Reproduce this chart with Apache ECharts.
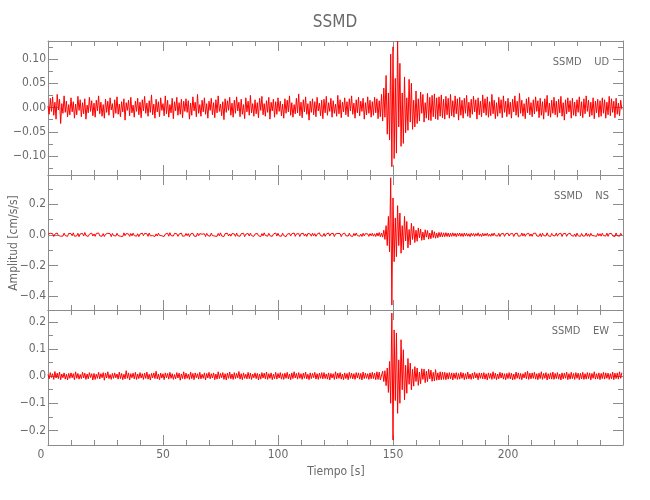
<!DOCTYPE html>
<html>
<head>
<meta charset="utf-8">
<script src="https://cdn.jsdelivr.net/npm/echarts@6/dist/echarts.min.js"></script>
<style>html,body{margin:0;padding:0;background:#fff}#c{width:650px;height:500px}</style>
</head>
<body>
<div id="c"></div>
<script>
// sampling interval of the traces (s)
const dt = 0.5;

// SSMD UD component (cm/s/s), one value every 0.5 s, 10 s per row
const udValues = [
.003,-.014,.019,-.008,.022,-.016,.011,-.024,.027,-.005,.017,-.033,.008,-.012,.024,-.010,.013,-.019,.006,-.015,
.020,-.009,.012,-.022,.007,-.015,.023,-.006,.016,-.019,.010,-.013,.018,-.024,.005,-.011,.021,-.008,.014,-.017,
.009,-.020,.015,-.007,.024,-.013,.011,-.018,.006,-.022,.017,-.010,.013,-.016,.020,-.005,.008,-.021,.016,-.012,
.022,-.014,.007,-.019,.012,-.009,.018,-.026,.010,-.006,.015,-.017,.021,-.011,.005,-.020,.013,-.008,.019,-.015,
.011,-.021,.016,-.007,.023,-.012,.009,-.018,.014,-.010,.026,-.015,.007,-.022,.017,-.009,.012,-.019,.020,-.006,
.008,-.017,.024,-.013,.015,-.020,.006,-.011,.019,-.023,.012,-.007,.021,-.016,.010,-.014,.017,-.021,.013,-.008,
.018,-.010,.014,-.024,.009,-.016,.022,-.007,.011,-.019,.027,-.012,.006,-.018,.015,-.009,.020,-.014,.008,-.022,
.013,-.006,.019,-.015,.010,-.021,.016,-.011,.024,-.008,.007,-.017,.012,-.025,.018,-.010,.014,-.006,.021,-.016,
.009,-.020,.015,-.012,.022,-.007,.011,-.019,.017,-.014,.006,-.023,.020,-.009,.013,-.016,.025,-.011,.008,-.018,
.016,-.013,.010,-.021,.019,-.006,.023,-.015,.008,-.018,.014,-.010,.021,-.024,.011,-.007,.017,-.020,.012,-.014,
.020,-.008,.013,-.017,.007,-.022,.018,-.012,.015,-.009,.024,-.016,.010,-.020,.006,-.013,.019,-.011,.028,-.017,
.011,-.021,.016,-.009,.022,-.014,.008,-.026,.013,-.010,.018,-.015,.012,-.019,.021,-.007,.009,-.017,.015,-.023,
.017,-.011,.023,-.016,.010,-.008,.019,-.020,.014,-.012,.007,-.018,.025,-.013,.016,-.021,.011,-.009,.020,-.015,
.012,-.019,.018,-.007,.024,-.014,.009,-.022,.016,-.011,.021,-.017,.013,-.008,.019,-.024,.010,-.015,.022,-.012,
.015,-.020,.012,-.016,.021,-.011,.018,-.023,.014,-.019,.027,-.028,.040,-.020,.066,-.055,.030,-.067,.110,-.122,
.125,-.105,.060,-.094,.137,-.040,.091,-.080,.030,-.074,.063,-.052,.020,-.047,.058,-.030,.050,-.045,.015,-.040,
.034,-.033,.018,-.028,.032,-.012,.027,-.030,.010,-.022,.029,-.026,.021,-.027,.025,-.019,.028,-.023,.020,-.025,
.022,-.018,.026,-.021,.017,-.024,.023,-.015,.019,-.022,.027,-.017,.014,-.020,.024,-.013,.018,-.026,.021,-.016,
.015,-.022,.019,-.012,.025,-.018,.011,-.021,.017,-.014,.023,-.009,.016,-.024,.020,-.015,.013,-.019,.026,-.011,
.018,-.016,.022,-.020,.012,-.017,.027,-.013,.015,-.023,.010,-.018,.021,-.012,.016,-.021,.024,-.010,.013,-.019,
.019,-.014,.011,-.022,.017,-.009,.024,-.016,.013,-.020,.029,-.012,.015,-.018,.008,-.023,.018,-.011,.021,-.015,
.010,-.019,.016,-.013,.022,-.008,.014,-.021,.019,-.016,.012,-.024,.018,-.010,.025,-.017,.009,-.020,.015,-.012,
.021,-.015,.013,-.020,.017,-.011,.023,-.018,.010,-.026,.016,-.013,.020,-.009,.014,-.022,.019,-.016,.011,-.018,
.016,-.010,.022,-.017,.012,-.021,.018,-.013,.024,-.008,.015,-.019,.011,-.016,.020,-.023,.013,-.011,.017,-.020,
.014,-.018,.020,-.012,.016,-.022,.011,-.015,.023,-.017,.018,-.010,.013,-.021,.019,-.014,.009,-.017,.015,-.004
];

// SSMD NS component (cm/s/s)
const nsValues = [
.004,-.007,.010,-.003,.008,-.011,.005,-.006,.012,-.004,.007,-.009,.003,-.008,.011,-.005,.006,-.010,.009,-.004,
.008,-.006,.013,-.009,.004,-.007,.010,-.012,.006,-.003,.009,-.008,.015,-.005,.007,-.010,.004,-.006,.011,-.008,
.006,-.010,.009,-.004,.012,-.007,.005,-.009,.008,-.011,.004,-.006,.010,-.003,.007,-.012,.009,-.005,.006,-.008,
.010,-.005,.007,-.009,.004,-.011,.013,-.006,.008,-.004,.006,-.010,.009,-.007,.011,-.005,.005,-.009,.007,-.012,
.005,-.008,.011,-.006,.009,-.004,.007,-.010,.012,-.007,.004,-.005,.008,-.011,.006,-.008,.010,-.004,.009,-.006,
.007,-.011,.005,-.007,.010,-.009,.014,-.005,.006,-.008,.009,-.004,.007,-.010,.005,-.006,.011,-.009,.004,-.007,
.009,-.006,.008,-.012,.006,-.004,.010,-.008,.005,-.010,.012,-.006,.008,-.005,.004,-.009,.007,-.011,.010,-.005,
.006,-.009,.011,-.005,.007,-.008,.004,-.010,.009,-.006,.013,-.007,.005,-.011,.008,-.004,.010,-.008,.006,-.009,
.008,-.004,.006,-.010,.012,-.007,.005,-.009,.007,-.005,.010,-.012,.004,-.006,.009,-.008,.011,-.005,.007,-.010,
.005,-.008,.009,-.006,.004,-.011,.008,-.007,.013,-.004,.006,-.009,.010,-.006,.007,-.010,.005,-.007,.012,-.008,
.010,-.007,.006,-.009,.011,-.005,.008,-.012,.004,-.006,.009,-.008,.007,-.004,.012,-.010,.006,-.007,.008,-.011,
.007,-.005,.010,-.008,.006,-.011,.009,-.004,.005,-.009,.011,-.006,.008,-.010,.004,-.007,.013,-.005,.006,-.009,
.009,-.010,.005,-.006,.012,-.008,.007,-.005,.010,-.011,.006,-.007,.009,-.004,.008,-.012,.005,-.008,.011,-.006,
.006,-.008,.011,-.007,.004,-.010,.009,-.006,.012,-.005,.007,-.009,.005,-.011,.010,-.007,.008,-.004,.006,-.010,
.008,-.006,.010,-.009,.007,-.011,.012,-.008,.015,-.012,.012,-.015,.030,-.030,.060,-.070,.120,-.110,.372,-.458,
.240,-.175,.110,-.142,.190,-.070,.142,-.120,.060,-.098,.120,-.040,.087,-.085,.035,-.066,.075,-.030,.055,-.050,
.030,-.042,.045,-.020,.038,-.036,.018,-.033,.033,-.015,.028,-.028,.012,-.025,.030,-.018,.020,-.022,.011,-.019,
.016,-.013,.015,-.014,.013,-.012,.014,-.011,.012,-.013,.011,-.010,.013,-.009,.010,-.012,.011,-.008,.012,-.010,
.009,-.011,.012,-.008,.010,-.009,.007,-.012,.011,-.006,.009,-.010,.008,-.007,.013,-.009,.006,-.011,.010,-.008,
.008,-.006,.011,-.009,.005,-.010,.009,-.007,.012,-.005,.007,-.008,.010,-.011,.006,-.004,.009,-.010,.007,-.006,
.010,-.008,.006,-.005,.009,-.011,.007,-.006,.011,-.009,.004,-.007,.012,-.008,.008,-.010,.005,-.006,.010,-.009,
.006,-.010,.009,-.004,.011,-.007,.005,-.009,.008,-.012,.010,-.005,.007,-.008,.013,-.006,.006,-.011,.009,-.005,
.008,-.007,.012,-.009,.006,-.005,.010,-.011,.007,-.006,.009,-.010,.005,-.008,.011,-.004,.008,-.009,.006,-.012,
.011,-.006,.007,-.010,.009,-.008,.005,-.007,.012,-.009,.006,-.011,.010,-.005,.008,-.006,.004,-.010,.009,-.007,
.007,-.009,.010,-.005,.006,-.008,.011,-.010,.008,-.004,.009,-.007,.005,-.011,.012,-.006,.007,-.009,.010,-.003
];

// SSMD EW component (cm/s/s)
const ewValues = [
.006,-.010,.013,-.005,.009,-.012,.017,-.007,.011,-.009,.015,-.013,.008,-.006,.012,-.011,.007,-.014,.010,-.008,
.012,-.006,.009,-.013,.016,-.008,.010,-.011,.006,-.009,.014,-.007,.011,-.012,.008,-.010,.013,-.005,.009,-.014,
.010,-.012,.007,-.008,.014,-.010,.009,-.006,.013,-.015,.011,-.007,.016,-.009,.006,-.012,.010,-.008,.012,-.006,
.008,-.011,.015,-.009,.010,-.013,.007,-.010,.020,-.008,.012,-.014,.009,-.006,.011,-.010,.014,-.012,.008,-.009,
.013,-.007,.009,-.012,.011,-.008,.015,-.011,.007,-.014,.010,-.006,.012,-.009,.018,-.010,.008,-.013,.011,-.007,
.009,-.013,.012,-.006,.010,-.011,.014,-.008,.009,-.012,.006,-.010,.013,-.007,.011,-.015,.008,-.009,.016,-.011,
.011,-.008,.007,-.012,.015,-.009,.010,-.013,.012,-.006,.009,-.011,.014,-.010,.007,-.008,.012,-.014,.010,-.007,
.014,-.010,.009,-.007,.012,-.013,.008,-.011,.016,-.009,.010,-.006,.013,-.012,.009,-.014,.011,-.008,.015,-.010,
.008,-.012,.013,-.009,.010,-.007,.017,-.011,.009,-.013,.012,-.008,.007,-.010,.014,-.009,.011,-.012,.008,-.006,
.012,-.009,.010,-.014,.008,-.011,.013,-.007,.011,-.010,.015,-.012,.009,-.008,.012,-.013,.007,-.009,.014,-.011,
.010,-.007,.013,-.011,.009,-.012,.011,-.008,.014,-.010,.008,-.013,.012,-.009,.016,-.007,.010,-.011,.013,-.008,
.009,-.012,.011,-.008,.015,-.010,.007,-.013,.012,-.009,.010,-.006,.014,-.011,.009,-.012,.011,-.008,.013,-.010,
.013,-.009,.008,-.011,.012,-.014,.010,-.007,.009,-.012,.016,-.010,.011,-.008,.013,-.011,.008,-.013,.012,-.009,
.010,-.013,.014,-.008,.011,-.010,.009,-.012,.013,-.007,.012,-.011,.010,-.014,.015,-.009,.011,-.008,.009,-.012,
.012,-.010,.014,-.009,.011,-.013,.016,-.012,.015,-.014,-.016,.018,-.020,.020,-.035,.030,-.060,.054,-.100,.232,
-.235,.170,-.090,.159,-.137,.060,-.100,.134,-.050,.097,-.087,.040,-.063,.065,-.030,.048,-.050,.025,-.037,.035,
-.020,.030,-.034,.015,-.028,.027,-.012,.026,-.024,.018,-.020,.025,-.010,.022,-.019,.014,-.018,.024,-.015,.012,
-.014,.016,-.013,.015,-.012,.014,-.013,.012,-.011,.013,-.010,.012,-.014,.011,-.009,.013,-.012,.010,-.011,.014,
-.008,.012,-.013,.009,-.011,.015,-.010,.008,-.012,.011,-.009,.014,-.007,.010,-.013,.012,-.008,.011,-.010,.013,
-.011,.009,-.014,.012,-.008,.010,-.012,.016,-.009,.011,-.013,.008,-.010,.014,-.007,.012,-.011,.009,-.013,.010,
-.009,.013,-.010,.011,-.014,.008,-.012,.015,-.008,.012,-.011,.010,-.013,.009,-.007,.014,-.010,.018,-.012,.011,
-.010,.012,-.008,.014,-.011,.009,-.013,.011,-.009,.016,-.012,.010,-.008,.013,-.014,.009,-.010,.012,-.011,.015,
-.012,.010,-.009,.013,-.011,.008,-.014,.012,-.010,.011,-.008,.015,-.013,.009,-.011,.014,-.009,.010,-.012,.013,
-.008,.011,-.013,.010,-.010,.014,-.012,.009,-.011,.013,-.009,.012,-.014,.010,-.008,.016,-.011,.009,-.010,.012,
-.013,.010,-.009,.014,-.011,.012,-.008,.011,-.012,.009,-.010,.015,-.013,.011,-.009,.012,-.011,.016,-.008,.013
];

// axis ranges and ticks
const timeRange = [0, 250];
const timeTicks = [0, 50, 100, 150, 200];
const timeMinorTicks = [10,20,30,40,60,70,80,90,110,120,130,140,160,170,180,190,210,220,230,240];
const udRange = [-0.139, 0.137];
const udTicks = [-0.10, -0.05, 0, 0.05, 0.10];
const udMinorTicks = [-0.125, -0.075, -0.025, 0.025, 0.075, 0.125];
const nsRange = [-0.49, 0.39];
const nsTicks = [-0.4, -0.2, 0, 0.2];
const nsMinorTicks = [-0.3, -0.1, 0.1, 0.3];
const ewRange = [-0.2535, 0.2435];
const ewTicks = [-0.2, -0.1, 0, 0.1, 0.2];
const ewMinorTicks = [-0.15, -0.05, 0.05, 0.15];
const panelNames = ['SSMD    UD', 'SSMD    NS', 'SSMD    EW'];

const FONT = '"Liberation Sans Narrow","DejaVu Sans Condensed","Roboto Condensed",sans-serif';
const AX = '#8c8c8c';
const TX = '#6a6a6a';

const panels = [
  {values: udValues, range: udRange, ticks: udTicks, minor: udMinorTicks, dec: 2},
  {values: nsValues, range: nsRange, ticks: nsTicks, minor: nsMinorTicks, dec: 1},
  {values: ewValues, range: ewRange, ticks: ewTicks, minor: ewMinorTicks, dec: 1}
];
const grids = [
  {left: 48, top: 41, width: 575, height: 134},
  {left: 48, top: 175, width: 575, height: 135},
  {left: 48, top: 310, width: 575, height: 135}
];

const xAxis = [], yAxis = [], series = [];
panels.forEach((p, gi) => {
  const isLast = gi === panels.length - 1;
  const fmt = v => (v < 0 ? '\u2212' : '') + Math.abs(v).toFixed(p.dec);
  const xBase = {gridIndex: gi, type: 'value', min: timeRange[0], max: timeRange[1], splitLine: {show: false}};
  const yBase = {gridIndex: gi, type: 'value', min: p.range[0], max: p.range[1], splitLine: {show: false}};
  const xi = xAxis.length;
  ['bottom', 'top'].forEach(pos => {
    xAxis.push(Object.assign({}, xBase, {
      position: pos,
      axisLine: {show: true, onZero: false, lineStyle: {color: AX, width: 1}},
      axisTick: {show: true, inside: true, length: 10, customValues: timeTicks, lineStyle: {color: AX}},
      axisLabel: {show: pos === 'bottom' && isLast, customValues: timeTicks, margin: 4,
                  color: TX, fontFamily: FONT, fontSize: 12,
                  formatter: v => v === 0 ? '{z|0}' : String(v),
                  rich: {z: {color: TX, fontFamily: FONT, fontSize: 12, padding: [0, 14, 0, 0]}}}
    }));
    xAxis.push(Object.assign({}, xBase, {
      position: pos,
      axisLine: {show: false, onZero: false},
      axisTick: {show: true, inside: true, length: 5, customValues: timeMinorTicks, lineStyle: {color: AX}},
      axisLabel: {show: false}
    }));
  });
  const yi = yAxis.length;
  ['left', 'right'].forEach(pos => {
    yAxis.push(Object.assign({}, yBase, {
      position: pos,
      axisLine: {show: true, onZero: false, lineStyle: {color: AX, width: 1}},
      axisTick: {show: true, inside: true, length: 10, customValues: p.ticks, lineStyle: {color: AX}},
      axisLabel: {show: pos === 'left', customValues: p.ticks, formatter: fmt, margin: 2,
                  color: TX, fontFamily: FONT, fontSize: 12}
    }));
    yAxis.push(Object.assign({}, yBase, {
      position: pos,
      axisLine: {show: false, onZero: false},
      axisTick: {show: true, inside: true, length: 5, customValues: p.minor, lineStyle: {color: AX}},
      axisLabel: {show: false}
    }));
  });
  series.push({
    type: 'line', xAxisIndex: xi, yAxisIndex: yi,
    data: p.values.map((v, i) => [i * dt, v]),
    showSymbol: false, symbol: 'none', sampling: null, clip: true,
    lineStyle: {color: '#ff0000', width: 1}, z: 3
  });
});

const graphic = [
  {type: 'text', x: 335, y: 23, style: {text: 'SSMD', font: '17px ' + FONT, fill: TX, textAlign: 'center', textVerticalAlign: 'middle'}},
  {type: 'text', x: 336, y: 472, style: {text: 'Tiempo [s]', font: '12px ' + FONT, fill: TX, textAlign: 'center', textVerticalAlign: 'middle'}},
  {type: 'text', x: 14, y: 243, rotation: Math.PI / 2, style: {text: 'Amplitud [cm/s/s]', font: '12px ' + FONT, fill: TX, textAlign: 'center', textVerticalAlign: 'middle'}}
];
panelNames.forEach((name, gi) => {
  graphic.push({type: 'text', x: 609, y: grids[gi].top + 21, style: {text: name, font: '11px ' + FONT, fill: TX, textAlign: 'right', textVerticalAlign: 'middle'}});
});

const chart = echarts.init(document.getElementById('c'), null, {renderer: 'canvas'});
chart.setOption({
  animation: false,
  backgroundColor: '#ffffff',
  grid: grids,
  xAxis: xAxis,
  yAxis: yAxis,
  series: series,
  graphic: graphic
});
</script>
</body>
</html>
